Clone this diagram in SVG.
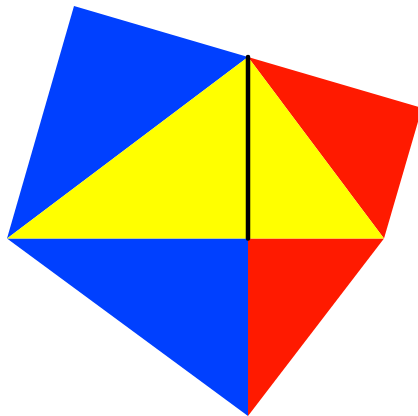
<svg xmlns="http://www.w3.org/2000/svg" width="418" height="416" viewBox="0 0 418 416">
<rect width="418" height="416" fill="#fff"/>
<polygon points="7,238.5 74,6 248,57" fill="#0040ff"/>
<polygon points="248,57 422,108 384,238.5" fill="#ff1a00"/>
<polygon points="7,238.5 248,238.5 248,416" fill="#0040ff"/>
<polygon points="248,238.5 384,238.5 248,416" fill="#ff1a00"/>
<polygon points="7,238.5 248,57 384,238.5" fill="#ffff00"/>
<line x1="248" y1="57" x2="248" y2="238.5" stroke="#000" stroke-width="4.5" stroke-linecap="round"/>
</svg>
